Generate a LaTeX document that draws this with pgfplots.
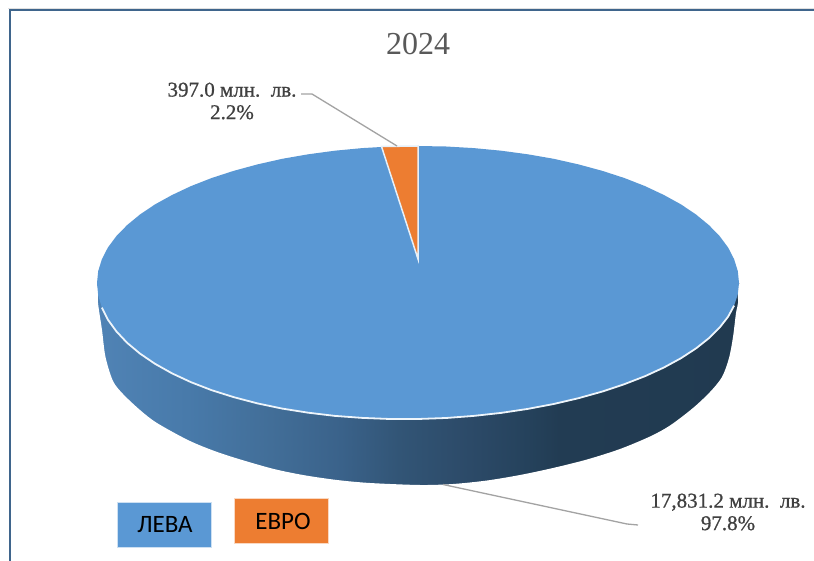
\documentclass[border=0pt]{standalone}
\usepackage{pgfplots}
\usepackage{fontspec}
\pgfplotsset{compat=1.18}
\setmainfont{Liberation Serif}
\newfontfamily\legfont{Carlito}
\newfontfamily\labfont[FakeBold=0.8]{Liberation Serif}
\definecolor{pieblue}{HTML}{5A98D4}
\definecolor{pieorange}{HTML}{ED7D31}
\definecolor{framecol}{HTML}{3F658C}
\definecolor{leader}{HTML}{A3A3A3}
\definecolor{labcol}{HTML}{404040}
\definecolor{titlecol}{HTML}{595959}
\pgfplotsset{colormap={pieside}{
  rgb255(0pt)=(80,131,181) rgb255(14pt)=(72,122,170) rgb255(27pt)=(66,110,152)
  rgb255(38pt)=(58,98,138) rgb255(47pt)=(50,85,118) rgb255(58pt)=(44,74,104)
  rgb255(67pt)=(37,66,92) rgb255(72pt)=(34,60,83) rgb255(100pt)=(33,58,80)}}
\begin{document}
\begin{tikzpicture}
\begin{axis}[
  scale only axis, width=814pt, height=561pt,
  xmin=0, xmax=814, ymin=0, ymax=561, y dir=reverse,
  hide axis, clip=true]
% background and outer frame
\addplot[fill=white, draw=none] coordinates {(0,0) (814,0) (814,561) (0,561)} -- cycle;
\addplot[color=framecol, line width=2.6pt] coordinates {(10,561) (10,10) (814,10)};
\addplot[color=black!12, line width=0.8pt] coordinates {(8,8) (814,8)};
% side of the pie: gradient band, then the white outside of its lower edge
\addplot[patch, patch type=rectangle, shader=interp, colormap name=pieside, point meta=x]
  coordinates {(97,283) (739,283) (739,490) (97,490)};
\addplot[fill=white, draw=none, smooth] coordinates {
 (85,283) (97,284) (98,303) (102,330) (105.5,357) (113,381) (123,394) (140,410) (157,423) (190,441)
 (223,454) (270,468) (303,475) (337,480) (370,483) (420,485) (453,484) (487,480.5) (520,475)
 (553,468) (587,459.5) (620,449) (650,436.5) (670,425.5) (693,408) (710,392) (722,377) (729,358)
 (733,337) (736,313) (738,303) (739,284) (755,283) (760,510) (420,505) (80,510)} -- cycle;
% top face: ЛЕВА 17,831.2 (97.8%)
\addplot[fill=pieblue, draw=none] coordinates {
 (739,283) (737.8,271.1) (734.1,259.2) (728.1,247.5) (719.6,236.1) (708.9,225.1) (696,214.5)
 (681,204.4) (663.9,195) (645,186.1) (624.3,178) (602.1,170.8) (578.5,164.4) (553.7,158.8)
 (527.8,154.3) (501.1,150.7) (473.7,148.1) (446,146.5) (418,146) (390,146.5) (362.3,148.1)
 (334.9,150.7) (308.2,154.3) (282.3,158.8) (257.5,164.4) (233.9,170.8) (211.7,178) (191,186.1)
 (172.1,195) (155,204.4) (140,214.5) (127.1,225.1) (116.4,236.1) (107.9,247.5) (101.9,259.2)
 (98.2,271.1) (97,283) (98.2,295.4) (101.9,307.6) (107.9,319.7) (116.4,331.4) (127.1,342.8)
 (140,353.6) (155,363.8) (172.1,373.4) (191,382.2) (211.7,390.2) (233.9,397.2) (257.5,403.4)
 (282.3,408.6) (308.2,412.7) (334.9,415.9) (362.3,417.9) (390,419) (418,419) (446,418)
 (473.7,415.9) (501.1,412.9) (527.8,408.9) (553.7,404) (578.5,398.2) (602.1,391.6) (624.3,384.2)
 (645,376.2) (663.9,367.5) (681,358.2) (696,348.4) (708.9,338.2) (719.6,327.6) (728.1,316.7)
 (734.1,305.6) (737.8,294.3)} -- cycle;
% white front rim
\addplot[color=white!90!pieblue, line width=1.8pt] coordinates {
 (101.9,307.6) (107.9,319.7) (116.4,331.4) (127.1,342.8)
 (140,353.6) (155,363.8) (172.1,373.4) (191,382.2) (211.7,390.2) (233.9,397.2) (257.5,403.4)
 (282.3,408.6) (308.2,412.7) (334.9,415.9) (362.3,417.9) (390,419) (418,419) (446,418)
 (473.7,415.9) (501.1,412.9) (527.8,408.9) (553.7,404) (578.5,398.2) (602.1,391.6) (624.3,384.2)
 (645,376.2) (663.9,367.5) (681,358.2) (696,348.4) (708.9,338.2) (719.6,327.6) (728.1,316.7)
 (734.1,305.6)};
% ЕВРО 397.0 (2.2%)
\addplot[fill=pieorange, draw=white!85!pieblue, line width=1.5pt, line join=miter] coordinates {
 (381.5,146.5) (418,146) (418,259)} -- cycle;
% leader lines
\addplot[color=leader, line width=1.3pt] coordinates {(301,94) (312,94) (397,146)};
\addplot[color=leader, line width=1.3pt] coordinates {(443,484.5) (627,524) (638,525)};
% legend boxes
\addplot[fill=pieblue, draw=white!70!pieblue, line width=0.6pt] coordinates {(117,502) (211,502) (211,547) (117,547)} -- cycle;
\addplot[fill=pieorange, draw=white!70!pieorange, line width=0.6pt] coordinates {(234,498) (328,498) (328,543.5) (234,543.5)} -- cycle;
% texts
\node[text=titlecol, font=\fontsize{32}{36}\selectfont] at (axis cs:418,44) {2024};
\node[text=labcol, font=\labfont\fontsize{21}{24}\selectfont, align=center, anchor=center] at (axis cs:232,101)
  {397.0 млн.\ \ лв.\\[-1.5pt]2.2\%};
\node[text=labcol, font=\labfont\fontsize{21}{24}\selectfont, align=center, anchor=center] at (axis cs:728,512)
  {17,831.2 млн.\ \ лв.\\[-1.5pt]97.8\%};
\node[text=black, font=\legfont\fontsize{25}{28}\selectfont] at (axis cs:165,525) {ЛЕВА};
\node[text=black, font=\legfont\fontsize{25}{28}\selectfont] at (axis cs:283,521) {ЕВРО};
\end{axis}
\end{tikzpicture}
\end{document}
